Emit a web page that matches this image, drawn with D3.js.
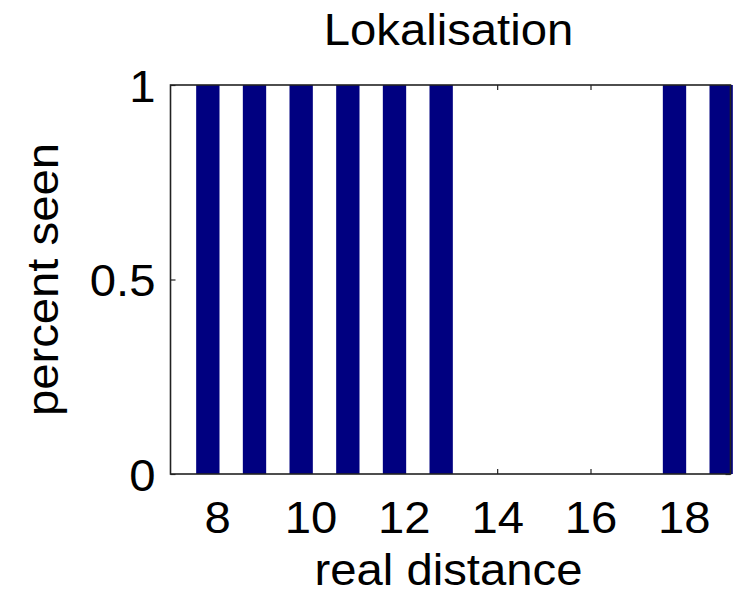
<!DOCTYPE html>
<html>
<head>
<meta charset="utf-8">
<script src="https://cdn.jsdelivr.net/npm/d3@7/dist/d3.min.js"></script>
<style>
  html, body { margin: 0; padding: 0; background: #fff; }
  svg { display: block; }
  text { font-family: "Liberation Sans", Arial, Helvetica, sans-serif; fill: #000; }
</style>
</head>
<body>
<svg id="chart" width="748" height="598"></svg>
<script>
// ---- data ----
const title = "Lokalisation";
const xLabel = "real distance";
const yLabel = "percent seen";
const distances = [8, 9, 10, 11, 12, 13, 14, 15, 16, 17, 18, 19];
const percentSeen = [1, 1, 1, 1, 1, 1, 0, 0, 0, 0, 1, 1];
const xTicks = [8, 10, 12, 14, 16, 18];
const yTicks = [0, 0.5, 1];
const yTickLabels = ["0", "0.5", "1"];

(function () {
  const svg = d3.select("#chart");
  const pLeft = 170.5, pRight = 730.5, pTop = 85, pBottom = 474;
  const fontSize = 45;
  const stretch = 1.05;
  const barColor = "#000080";

  const x = d3.scaleLinear().domain([7, 19]).range([pLeft, pRight]);
  const y = d3.scaleLinear().domain([0, 1]).range([pBottom, pTop]);

  svg.append("rect")
    .attr("x", pLeft).attr("y", pTop)
    .attr("width", pRight - pLeft).attr("height", pBottom - pTop)
    .attr("fill", "#fff");

  const tickLen = 5;
  const axB = svg.append("g").attr("transform", `translate(0,${pBottom})`)
    .call(d3.axisBottom(x).tickValues(xTicks).tickSizeInner(-tickLen).tickSizeOuter(0).tickPadding(27));
  const axT = svg.append("g").attr("transform", `translate(0,${pTop})`)
    .call(d3.axisTop(x).tickValues(xTicks).tickSizeInner(-tickLen).tickSizeOuter(0).tickFormat(""));
  const axL = svg.append("g").attr("transform", `translate(${pLeft},0)`)
    .call(d3.axisLeft(y).tickValues(yTicks).tickSizeInner(-tickLen).tickSizeOuter(0)
      .tickFormat((d, i) => yTickLabels[i]));
  const axR = svg.append("g").attr("transform", `translate(${pRight},0)`)
    .call(d3.axisRight(y).tickValues(yTicks).tickSizeInner(-tickLen).tickSizeOuter(0).tickFormat(""));

  [axB, axT, axL, axR].forEach(g => {
    g.select(".domain").remove();
    g.selectAll(".tick line").attr("stroke", "#222").attr("stroke-width", 1.2);
    g.selectAll("text").attr("font-size", fontSize).attr("fill", "#000")
      .style("font-family", '"Liberation Sans", Arial, sans-serif');
  });
  axL.selectAll("text").attr("dy", "0.36em").attr("x", 0)
    .attr("transform", `translate(-15,0) scale(${stretch},1)`);
  axB.selectAll("text").attr("dy", "0.71em").attr("y", 0)
    .attr("transform", `translate(0,27) scale(${stretch},1)`);

  svg.append("g").selectAll("rect")
    .data(distances.map((d, i) => ({ d, v: percentSeen[i] })).filter(o => o.v > 0))
    .join("rect")
    .attr("x", o => x(o.d - 0.45))
    .attr("width", o => x(o.d + 0.05) - x(o.d - 0.45))
    .attr("y", o => y(o.v))
    .attr("height", o => y(0) - y(o.v))
    .attr("fill", barColor);

  svg.append("rect")
    .attr("x", pLeft).attr("y", pTop)
    .attr("width", pRight - pLeft).attr("height", pBottom - pTop)
    .attr("fill", "none").attr("stroke", "#222").attr("stroke-width", 1.6);

  svg.append("text")
    .attr("transform", `translate(${(pLeft + pRight) / 2 - 2},45) scale(${stretch},1)`)
    .attr("text-anchor", "middle").attr("font-size", fontSize)
    .text(title);

  svg.append("text")
    .attr("transform", `translate(${(pLeft + pRight) / 2 - 2},585) scale(${stretch},1)`)
    .attr("text-anchor", "middle").attr("font-size", fontSize)
    .text(xLabel);

  svg.append("text")
    .attr("transform", `translate(58,${(pTop + pBottom) / 2}) rotate(-90) scale(${stretch},1)`)
    .attr("text-anchor", "middle").attr("font-size", fontSize)
    .text(yLabel);
})();
</script>
</body>
</html>
